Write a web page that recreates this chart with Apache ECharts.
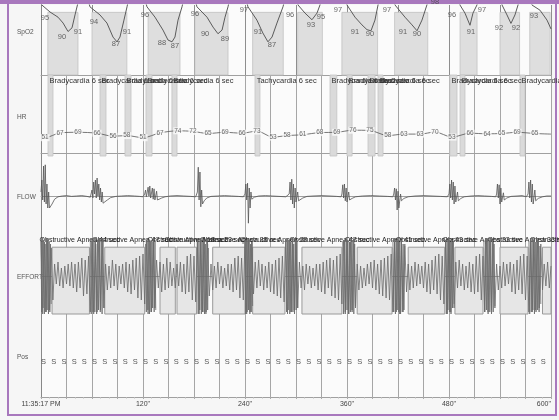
<!DOCTYPE html>
<html><head><meta charset="utf-8">
<script src="https://cdn.jsdelivr.net/npm/echarts@6/dist/echarts.min.js"></script>
<style>html,body{margin:0;padding:0;background:#f4f4f4}#c{width:559px;height:420px}</style>
</head><body><div id="c"></div>
<script>
const FONT = 'Liberation Sans, Arial, sans-serif';
const rowNames = ['SpO2', 'HR', 'FLOW', 'EFFORT', 'Pos'];
const rowLabelY = [32, 117, 197, 277, 357];
const tickValues = [0, 120, 240, 360, 480, 600];
const tickLabels = ['11:35:17 PM', '120"', '240"', '360"', '480"', '600"'];

// SpO2 trace (seconds, %); 99.5 = above the visible range
const spo2Curve = [
[0,97.2],[10.6,95.1],[20,93.7],[26,92.1],[31.8,89.8],[36.5,90.8],[40,94.3],[43.5,97.6],[47,99.5],
[54,99.5],[57.6,96.5],[69.4,94.3],[77.6,92.1],[84.7,88.3],[89.4,87],[92.9,88.3],[97.6,92.9],[101.2,96.5],[104,99.5],
[121,99.5],[124.7,96.5],[134.1,93.7],[143.5,90.2],[149.4,87.5],[154.1,87],[157.6,88.3],[161.2,92.9],[165.9,96.5],[169,99.5],
[180,99.5],[183.5,96.5],[195.3,93.7],[202.4,91],[208.2,89.2],[213,90.2],[216.5,93.7],[220,96.5],[223,99.5],
[240,99.5],[243.5,96.5],[254,92.9],[261,89.4],[267,87],[271.8,88.3],[277.6,92.1],[284.7,96.5],[288,99.5],
[299,99.5],[302.4,97],[310.6,94.8],[318.8,93],[324.7,94.8],[328.2,97],[331,99.5],
[357,99.5],[360,97],[369.4,93.7],[377.6,91.6],[383.5,90.3],[388.2,90],[392.9,92.9],[396.5,97],[399,99.5],
[413,99.5],[416.5,97],[428.2,93.7],[436.5,91.6],[442.4,90],[448.2,92.9],[454,97],[457,99.5],
[490,99.5],[492.9,97],[498.8,94.8],[504.7,91.5],[508.2,94.8],[512.9,97],[515,99.5],
[540,99.5],[542.4,97],[548.2,94.3],[552.9,92],[557.6,94.3],[561.2,97],[564,99.5],
[575,99.5],[577.6,97],[587,95.6],[595.3,92.9],[600,90.5]
];
const spo2Labels = [
[4.7,93.5,'95'],[24.7,88.3,'90'],[43.5,89.7,'91'],
[62.4,92.4,'94'],[88.2,86.4,'87'],[101.2,89.7,'91'],
[122.4,94.3,'96'],[142.4,86.7,'88'],[157.6,85.9,'87'],
[181.2,94.6,'96'],[193,89.1,'90'],[216.5,87.8,'89'],
[238.8,95.6,'97'],[255.3,89.7,'91'],[271.8,86.1,'87'],
[293,94.3,'96'],[317.6,91.6,'93'],[329.4,93.7,'95'],
[349.4,95.6,'97'],[369.4,89.7,'91'],[387,89.1,'90'],
[407,95.6,'97'],[425.9,89.7,'91'],[442.4,89.1,'90'],
[463.5,97.8,'98'],
[483.5,94.3,'96'],[505.9,89.7,'91'],[518.8,95.6,'97'],
[538.8,90.8,'92'],[558.8,90.8,'92'],
[580,94.0,'93']
];
const spo2Boxes = [[8,43.5],[60,101],[126,163.5],[181,220],[249,285],[302,331],[354,396],[416,455],[493,513],[540,563],[575,599]];

// Heart rate
const hrTimes = [4.7,22.4,43.5,65.9,84.7,101,120,140,161,178.8,196.5,216.5,236.5,254,273,289.4,308,328,348,367,387,408,427,446,463.5,483.5,504.7,524.7,542,560,581];
const hrValues = [51,67,69,66,56,58,51,67,74,72,65,69,66,73,53,58,61,68,69,76,75,58,63,63,70,53,66,64,65,69,65];
const hrEdges = [[0,56],[600,63]];
const hrEvents = [
[8.2,14.1,'Bradycardia 6 sec'],[69.4,76.5,'Bradycardia 6 sec'],[98.8,105.9,'Bradycardia 6 sec'],
[123.5,130.6,'Bradycardia 6 sec'],[154,160,'Bradycardia 6 sec'],[251.8,257.6,'Tachycardia 6 sec'],
[340,348,'Bradycardia 6 sec'],[360,366,'Bradycardia 6 sec'],[384.7,393,'Bradycardia 6 sec'],
[396.5,402.4,'Bradycardia 6 sec'],[481,489.4,'Bradycardia 6 sec'],[493,498.8,'Bradycardia 6 sec'],
[563.5,569.4,'Bradycardia 6 sec']
];

// Airflow
const flowData = [
[0,0.1],[1,0.4],[2,-0.1],[3,0.75],[4,-0.15],[5,0.78],[6,-0.2],[7,0.3],[8,-0.3],[9,0.1],[10,-0.3],[11,-0.25],[13,-0.2],[16,-0.08],[20,-0.02],[25,0.0],[30,0.01],[36,-0.01],[42,0.0],[48,0.01],[54,-0.01],[58,-0.03],
[60,0.15],[61,-0.05],[62,0.35],[63,0.05],[64,0.4],[65,-0.05],[66,0.45],[67,0.0],[68,0.3],[69,-0.1],[70,0.2],[71,-0.15],[72,0.1],[73,-0.18],[75,-0.17],[78,-0.1],[82,-0.04],[88,-0.01],[95,0.0],[102,0.01],[110,0.0],[116,-0.01],[120,-0.02],
[122,0.05],[123,0.15],[124,-0.02],[126,0.22],[127,0.0],[128,0.25],[129,-0.05],[131,0.2],[132,-0.08],[133,0.18],[134,-0.1],[136,0.12],[137,-0.1],[139,-0.08],[142,-0.05],[146,-0.02],[152,0.0],[160,0.01],[168,0.0],[176,-0.01],[182,-0.02],
[184,0.1],[185,0.72],[186,-0.1],[187,0.6],[188,-0.27],[189,0.15],[190,-0.2],[192,-0.12],[195,-0.05],[200,-0.01],[208,0.0],[216,0.01],[224,0.0],[232,-0.01],[238,-0.02],
[240,0.05],[241,0.3],[242,-0.1],[243,0.32],[244,-0.68],[245,0.2],[246,-0.3],[247,0.1],[248,-0.08],[251,-0.03],[256,0.0],[264,0.01],[272,0.0],[280,-0.01],[288,-0.02],
[292,0.05],[293,0.35],[294,-0.1],[295,0.42],[296,-0.2],[297,0.3],[298,-0.3],[299,0.2],[300,-0.15],[302,0.1],[303,-0.12],[305,-0.1],[308,-0.05],[313,-0.01],[320,0.0],[330,0.01],[340,0.0],[348,-0.01],[353,-0.02],
[354,0.05],[355,0.28],[356,-0.05],[357,0.3],[358,-0.12],[359,0.2],[360,-0.15],[362,0.1],[363,-0.1],[366,-0.06],[370,-0.02],[378,0.0],[388,0.01],[398,0.0],[408,-0.01],[414,-0.02],
[415,0.05],[416,0.2],[417,-0.1],[418,0.18],[419,-0.35],[420,0.12],[421,-0.3],[423,0.05],[424,-0.12],[427,-0.06],[432,-0.02],[440,0.0],[450,0.01],[460,0.0],[470,-0.01],[478,-0.02],
[480,0.05],[481,0.3],[482,-0.05],[483,0.4],[484,-0.1],[485,0.35],[486,-0.2],[487,0.25],[488,-0.15],[490,0.1],[491,-0.12],[494,-0.06],[498,-0.02],[506,0.0],[514,0.01],[522,0.0],[530,-0.01],[535,-0.02],
[536,0.05],[537,0.3],[538,-0.05],[539,0.28],[540,-0.2],[541,0.2],[542,-0.15],[544,0.08],[545,-0.1],[548,-0.05],[553,-0.01],[560,0.0],[566,0.01],[571,-0.02],
[573,0.05],[574,0.35],[575,-0.05],[576,0.4],[577,-0.15],[578,0.3],[579,-0.2],[581,0.15],[582,-0.12],[585,-0.06],[590,-0.02],[595,0.0],[600,0.0]
];

// Respiratory effort, one sample every 2 s
const effortStep = 2;
const effortValues = [
0.9,-0.95,0.85,-0.9,0.95,-0.85,0.7,
-0.6,0.3,-0.2,0.35,-0.25,0.2,-0.3,0.25,-0.2,0.3,-0.25,0.35,-0.3,0.3,-0.4,0.35,-0.3,0.45,-0.5,0.4,-0.45,0.5,
-0.9,0.95,-0.95,0.9,-0.9,0.95,-0.85,0.9,-0.8,
0.3,-0.35,0.25,-0.3,0.4,-0.25,0.3,-0.35,0.25,-0.2,0.3,-0.3,0.35,-0.4,0.3,-0.45,0.4,-0.35,0.45,-0.55,0.5,-0.6,0.55,-0.7,
0.9,-0.95,0.9,-0.9,0.85,-0.8,
0.4,-0.3,0.35,-0.4,0.3,-0.35,0.45,-0.3,0.35,-0.25,0.2,-0.3,0.3,-0.25,0.35,-0.4,0.3,-0.45,0.5,-0.4,0.55,-0.6,0.5,-0.65,
0.9,-0.95,0.95,-0.9,0.9,-0.95,0.8,
-0.5,0.3,-0.35,0.25,-0.3,0.35,-0.2,0.25,-0.3,0.2,-0.25,0.3,-0.35,0.3,-0.4,0.45,-0.35,0.5,-0.55,0.45,-0.6,
0.9,-0.95,0.9,-0.9,0.85,
-0.45,0.35,-0.3,0.4,-0.25,0.3,-0.35,0.25,-0.3,0.35,-0.4,0.3,-0.45,0.4,-0.5,0.45,-0.55,0.5,-0.65,
0.9,-0.95,0.9,-0.9,0.95,-0.85,0.9,-0.8,
0.35,-0.3,0.25,-0.35,0.3,-0.2,0.25,-0.3,0.2,-0.25,0.3,-0.35,0.3,-0.4,0.35,-0.45,0.4,-0.3,0.45,-0.5,0.4,-0.55,0.5,-0.6,0.55,-0.7,
0.9,-0.95,0.9,-0.95,0.85,-0.9,0.9,-0.8,
0.3,-0.35,0.25,-0.3,0.2,-0.25,0.3,-0.2,0.35,-0.3,0.4,-0.35,0.3,-0.45,0.4,-0.5,0.45,-0.55,0.5,-0.6,0.55,
-0.9,0.95,-0.9,0.9,-0.95,0.85,-0.9,0.8,
-0.4,0.3,-0.35,0.25,-0.3,0.35,-0.25,0.3,-0.2,0.25,-0.3,0.35,-0.4,0.3,-0.45,0.4,-0.35,0.5,-0.45,0.55,-0.6,0.5,-0.7,
0.9,-0.95,0.9,-0.9,0.85,-0.8,
0.35,-0.3,0.4,-0.25,0.3,-0.35,0.25,-0.3,0.35,-0.4,0.3,-0.45,0.5,-0.4,0.55,-0.6,0.5,
-0.9,0.95,-0.9,0.9,-0.95,0.85,-0.8,
0.3,-0.35,0.25,-0.3,0.35,-0.25,0.3,-0.2,0.35,-0.4,0.3,-0.45,0.4,-0.35,0.5,-0.45,0.55,-0.6,0.5,
-0.9,0.95,-0.9,0.95,-0.85,0.9,-0.9,0.8,
-0.35,0.3,-0.25,0.35,-0.3,0.25
];
// dense recovery-breathing bursts (start s, end s) and their samples
const effortBurstRanges = [[0,12],[58,74],[123,135],[184,197],[240,249],[288,302],[355,370],[414,428],[476,486],[521,534],[574,588]];
const effortBurstValues = [
[0.85,-0.9,0.95,-0.8,0.9,-0.95,0.8,-0.9,0.95,-0.85,0.9,-0.95,0.85,-0.9,0.8,-0.7],
[0.9,-0.95,0.85,-0.9,0.95,-0.9,0.8,-0.95,0.9,-0.85,0.95,-0.9,0.85,-0.95,0.9,-0.8],
[0.8,-0.9,0.95,-0.85,0.9,-0.95,0.85,-0.9,0.9,-0.8,0.95,-0.9,0.85,-0.85],
[0.9,-0.95,0.9,-0.85,0.95,-0.95,0.85,-0.9,0.9,-0.95,0.8,-0.9,0.95,-0.85,0.7],
[0.85,-0.95,0.9,-0.9,0.95,-0.85,0.9,-0.95,0.8,-0.9,0.85,-0.75],
[0.9,-0.9,0.95,-0.85,0.9,-0.95,0.85,-0.9,0.95,-0.9,0.8,-0.95,0.9,-0.85,0.9,-0.8],
[0.85,-0.95,0.9,-0.9,0.95,-0.85,0.9,-0.95,0.85,-0.9,0.95,-0.85,0.9,-0.95,0.8,-0.75],
[0.9,-0.9,0.85,-0.95,0.9,-0.85,0.95,-0.9,0.85,-0.95,0.9,-0.9,0.8,-0.85,0.75],
[0.85,-0.95,0.9,-0.85,0.95,-0.9,0.85,-0.95,0.9,-0.8,0.85,-0.7],
[0.9,-0.9,0.95,-0.85,0.9,-0.95,0.85,-0.9,0.95,-0.85,0.9,-0.9,0.8,-0.75],
[0.85,-0.95,0.9,-0.9,0.95,-0.85,0.9,-0.95,0.85,-0.9,0.95,-0.85,0.9,-0.8,0.75,-0.7]
];
const effortBoxes = [
[13,57,'Obstructive Apnea 44 sec'],[75,122,'Obstructive Apnea 47 sec'],[140,158,'Obstructive Apnea 18 sec'],
[160,183,'Obstructive Apnea 23 sec'],[202,240,'Obstructive Apnea 38 sec'],[249,287,'Obstructive Apnea 38 sec'],
[307,354,'Obstructive Apnea 47 sec'],[372,413,'Obstructive Apnea 41 sec'],[432,475,'Obstructive Apnea 43 sec'],
[487,520,'Obstructive Apnea 33 sec'],[540,573,'Obstructive Apnea 33 sec'],[590,600,'Obstructive Apnea']
];

// Body position
const posTimes = [3,15,27,39,51,63,75,87,99,111,123,135,147,159,171,183,195,207,219,231,243,255,267,279,291,303,315,327,339,351,363,375,387,399,411,423,435,447,459,471,483,495,507,519,531,543,555,567,579,591];
const posCode = 'S';

// ---------- layout ----------
const gridTops = [5, 75, 156, 236, 316];
const gridHeights = [70, 81, 80, 80, 81];
const yRanges = [[78, 97], [-10, 260], [-1, 1], [-1, 1], [0, 1]];

const grids = gridTops.map((t, i) => ({
  left: 41, right: 8, top: t, height: gridHeights[i],
  show: true, backgroundColor: '#fbfbfb', borderWidth: 0
}));
const xAxes = gridTops.map((t, i) => ({
  gridIndex: i, type: 'value', min: 0, max: 600, interval: i === 0 ? 60 : 30,
  axisLine: { show: true, lineStyle: { color: '#a0a0a0', width: 1 } },
  axisTick: { show: i === 4, length: 2, lineStyle: { color: '#aaa' } },
  minorTick: { show: i === 4, splitNumber: 3, length: 1.5, lineStyle: { color: '#bbb' } },
  axisLabel: {
    show: i === 4, fontSize: 7, color: '#444', margin: 4, fontFamily: FONT,
    alignMaxLabel: 'right',
    formatter: v => { const k = tickValues.indexOf(v); return k >= 0 ? tickLabels[k] : ''; }
  },
  splitLine: { show: true, lineStyle: { color: i === 0 ? '#8e8e8e' : '#a6a6a6', width: 1 } }
}));
const yAxes = gridTops.map((t, i) => ({
  gridIndex: i, type: 'value', min: yRanges[i][0], max: yRanges[i][1],
  axisLine: { show: true, lineStyle: { color: '#888' } },
  axisTick: { show: false }, axisLabel: { show: false }, splitLine: { show: false }
}));

const hrLine = [hrEdges[0]].concat(hrTimes.map((t, i) => [t, hrValues[i]])).concat([hrEdges[1]]);

const burstData = [];
effortBurstRanges.forEach((r, k) => {
  const vals = effortBurstValues[k];
  vals.forEach((v, j) => burstData.push([r[0] + (r[1] - r[0]) * j / (vals.length - 1), v]));
  burstData.push([r[1], null]);
});

const transparent = { color: 'rgba(0,0,0,0)' };
const series = [
  {
    type: 'line', xAxisIndex: 0, yAxisIndex: 0, data: spo2Curve, showSymbol: false,
    lineStyle: { color: '#5a5a5a', width: 1 }, z: 3,
    markArea: {
      silent: true,
      itemStyle: { color: '#dedede', borderColor: '#c2c2c2', borderWidth: 0.8 },
      data: spo2Boxes.map(b => [{ xAxis: b[0], yAxis: 95 }, { xAxis: b[1], yAxis: 78 }])
    }
  },
  {
    type: 'scatter', xAxisIndex: 0, yAxisIndex: 0, clip: false, symbolSize: 1,
    itemStyle: transparent, z: 4,
    data: spo2Labels.map(d => ({ value: [d[0], d[1]], name: d[2] })),
    label: { show: true, position: 'inside', formatter: '{b}', fontSize: 7.5, color: '#444', fontFamily: FONT }
  },
  {
    type: 'line', xAxisIndex: 1, yAxisIndex: 1, data: hrLine, showSymbol: false, smooth: 0.3,
    lineStyle: { color: '#555', width: 0.8 }, z: 3,
    markArea: {
      silent: true,
      itemStyle: { color: '#dadada', borderColor: '#c4c4c4', borderWidth: 0.8 },
      label: { show: true, position: 'insideTopLeft', distance: 2, fontSize: 7.5, color: '#333', fontFamily: FONT },
      data: hrEvents.map(e => [{ xAxis: e[0], name: e[2] }, { xAxis: e[1] }])
    }
  },
  {
    type: 'scatter', xAxisIndex: 1, yAxisIndex: 1, clip: false, symbolSize: 1, itemStyle: transparent, z: 4,
    data: hrTimes.map((t, i) => [t, hrValues[i]]),
    label: {
      show: true, position: 'inside', formatter: p => p.value[1], fontSize: 6.5, color: '#444',
      backgroundColor: '#fbfbfb', padding: [0, 1], fontFamily: FONT
    }
  },
  {
    type: 'line', xAxisIndex: 2, yAxisIndex: 2, data: flowData, showSymbol: false,
    lineStyle: { color: '#555', width: 0.8 }, z: 3
  },
  {
    type: 'line', xAxisIndex: 3, yAxisIndex: 3, showSymbol: false,
    data: effortValues.map((v, i) => [i * effortStep, v]),
    lineStyle: { color: '#6a6a6a', width: 0.8 }, z: 3,
    markArea: {
      silent: true,
      itemStyle: { color: '#e6e6e6', borderColor: '#9a9a9a', borderWidth: 1 },
      label: { show: true, position: [-12, -10], fontSize: 7, color: '#222', fontFamily: FONT },
      data: effortBoxes.map(b => [{ xAxis: b[0], yAxis: 0.72, name: b[2] }, { xAxis: b[1], yAxis: -0.95 }])
    }
  },
  {
    type: 'line', xAxisIndex: 3, yAxisIndex: 3, showSymbol: false, connectNulls: false,
    data: burstData, lineStyle: { color: '#6a6a6a', width: 0.8 }, z: 3
  },
  {
    type: 'scatter', xAxisIndex: 4, yAxisIndex: 4, symbolSize: 1, itemStyle: transparent,
    data: posTimes.map(t => [t, 0.43]),
    label: { show: true, position: 'inside', formatter: () => posCode, fontSize: 7.5, color: '#2a2a2a', fontFamily: FONT }
  }
];

const graphic = rowNames.map((n, i) => ({
  type: 'text', x: 17, y: rowLabelY[i], silent: true,
  style: { text: n, fontSize: 6.5, fill: '#555', fontFamily: FONT, verticalAlign: 'middle' }
})).concat([
  { type: 'rect', silent: true, shape: { x: 0, y: 0, width: 559, height: 4 }, style: { fill: '#a878bd' } },
  { type: 'rect', silent: true, shape: { x: 8, y: 1, width: 548, height: 414 }, style: { fill: 'none', stroke: '#a878bd', lineWidth: 2 } }
]);

const chart = echarts.init(document.getElementById('c'), null, { renderer: 'canvas' });
chart.setOption({
  backgroundColor: '#f6f6f6',
  animation: false,
  textStyle: { fontFamily: FONT },
  grid: grids, xAxis: xAxes, yAxis: yAxes, series: series, graphic: graphic
});
</script></body></html>
